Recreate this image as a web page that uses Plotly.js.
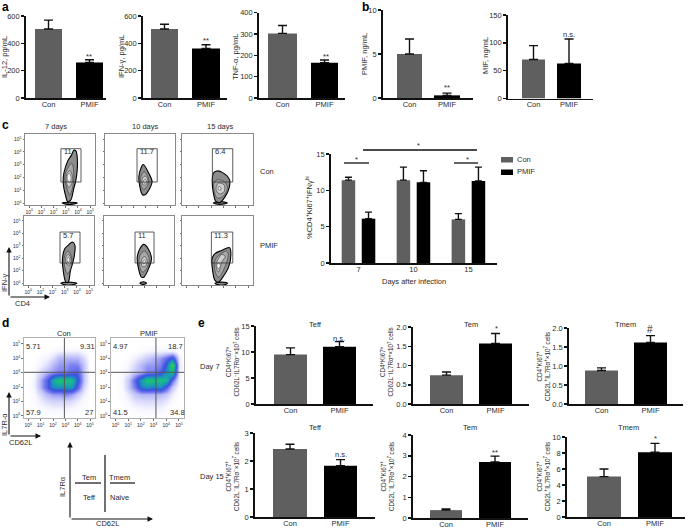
<!DOCTYPE html>
<html><head><meta charset="utf-8">
<script src="https://cdn.plot.ly/plotly-3.0.1.min.js"></script>
<style>html,body{margin:0;padding:0;background:#fff}#g{width:689px;height:528px}</style>
</head><body><div id="g"></div>
<script>
// ---------- values ----------
const groups = ['Con', 'PMIF'];
const il12 = [505, 260],    il12Top = [570, 280];
const ifng = [505, 362],    ifngTop = [540, 390];
const tnfa = [303, 165],    tnfaTop = [340, 178];
const pmif = [5, 0.3],      pmifTop = [6.7, 0.55];
const mif  = [70, 63],      mifTop  = [95, 107];
const teff7 = [9.5, 11],    teff7Top = [10.8, 12];
const tem7  = [0.75, 1.57], tem7Top  = [0.83, 1.83];
const tmem7 = [0.88, 1.62], tmem7Top = [0.95, 1.8];
const teff15 = [2.43, 1.83],tef15Top = [2.6, 2.05];
const tem15  = [0.38, 2.7], tem15Top = [0.44, 2.98];
const tmem15 = [5.05, 8.1], tmem15Top = [6, 9.2];
const days = ['7', '10', '15'];
const dayCon = [11.4, 11.4, 6.0],  dayConTop = [11.8, 13.2, 6.8];
const dayPmif = [6.1, 11.1, 11.3], dayPmifTop = [7, 12.7, 13.2];

const decadeTicks = [0, 1, 2, 3, 4, 5];
const decadeText = ['10<sup>0</sup>','10<sup>1</sup>','10<sup>2</sup>','10<sup>3</sup>','10<sup>4</sup>','10<sup>5</sup>'];

// contour outlines, in decades: [x..., y...] for each ring
const c11 = [
 [[3.66,3.83,3.96,3.83,3.66,3.39,3.14,3.0,2.79,2.84,3.2,3.47],[4.13,4.08,3.10,1.81,1.16,.21,.13,.52,1.55,2.33,3.36,3.75]],
 [[3.5,3.66,3.6,3.33,3.06,2.92,3.14],[3.1,2.33,1.42,.65,1.29,2.07,2.71]],
 [[3.33,3.55,3.44,3.22,3.03,3.11],[2.53,2.07,1.42,1.24,1.81,2.33]],
 [[3.28,3.44,3.33,3.14,3.11],[2.33,2.02,1.6,1.81,2.12]]];
const c11Low = [[2.7,3.3,3.95,3.3],[0,.07,0,-.1]];
const c12 = [
 [[2.79,3.25,3.52,3.33,2.95,2.73,2.51,2.43,2.65],[3.02,2.33,1.68,1.16,.65,.65,1.29,2.07,2.84]],
 [[2.87,3.25,3.06,2.79,2.57,2.6],[2.45,1.81,1.24,1.09,1.55,2.07]],
 [[2.95,3.17,3.0,2.79,2.68],[2.12,1.76,1.42,1.42,1.81]],
 [[2.95,3.06,2.92,2.81],[1.86,1.68,1.55,1.71]]];
const c13 = [
 [[2.46,2.95,3.5,3.42,3.06,2.73,2.4,2.19,2.1,2.19],[2.51,2.38,1.81,1.03,.39,.05,.13,.78,1.68,2.33]],
 [[2.46,3.06,3.33,2.95,2.51,2.24,2.24],[1.81,1.68,1.16,.52,.39,1.03,1.55]],
 [[2.6,3.06,3.06,2.68,2.4],[1.55,1.42,.9,.72,1.09]],
 [[2.62,2.78,2.78,2.6],[1.29,1.24,1.03,1.03]]];
const c13Low = [[2.19,2.7,3.33,2.7],[0,.12,0,-.1]];
const c21 = [
 [[3.63,3.83,3.74,3.47,3.28,3.09,2.87,2.81,3.0,3.28],[3.31,3.04,1.96,1.02,.08,.08,1.02,1.96,2.77,3.04]],
 [[3.28,3.58,3.47,3.22,2.95,3.0],[2.58,1.96,1.16,.75,1.56,2.23]],
 [[3.31,3.52,3.36,3.09,3.09],[2.31,1.88,1.42,1.69,2.1]],
 [[3.28,3.42,3.28,3.17],[2.1,1.88,1.67,1.88]]];
const c21Low = [[2.68,3.3,4.0,3.3],[-.02,.08,-.02,-.18]];
const c22 = [
 [[2.92,3.28,3.55,3.36,2.92,2.73,2.46,2.38,2.6],[3.12,2.77,1.96,1.29,.48,.48,1.29,2.1,2.77]],
 [[2.98,3.36,3.14,2.81,2.54,2.6],[2.58,1.96,1.16,.89,1.56,2.23]],
 [[2.98,3.2,3.03,2.81,2.7],[2.15,1.77,1.34,1.34,1.77]],
 [[2.98,3.06,2.92,2.84],[1.88,1.69,1.56,1.72]]];
const c22Low = [[2.6,2.87,3.14,2.87],[0,.1,0,-.1]];
const c23 = [
 [[3.5,3.61,3.42,2.95,2.6,2.32,2.13,2.08,2.32,2.87],[2.85,2.37,1.29,.48,.08,.22,1.02,1.96,2.37,2.63]],
 [[3.28,3.39,3.06,2.6,2.32,2.32,2.73],[2.58,2.23,1.16,.48,1.02,1.83,2.31]],
 [[2.87,3.14,2.87,2.6,2.4,2.6],[2.31,2.15,1.69,.89,1.42,1.96]],
 [[2.6,2.78,2.6,2.46],[1.61,1.42,1.16,1.42]]];
const c23Low = [[2.32,2.85,3.33,2.85],[-.02,.08,-.02,-.18]];

const cGateText = ['11', '11.7', '6.4', '5.7', '11', '11.3'];
const cGateX = [[2.6,4.25],[2.28,3.94],[2.11,3.76],[2.61,4.25],[2.2,3.76],[2.03,3.76]];
const cGateY = [[1.65,4.25],[1.65,4.25],[1.65,4.25],[1.62,4.11],[1.62,4.11],[1.62,4.11]];

// density grids, columns and rows every half decade
const densX = [0,.5,1,1.5,2,2.5,3,3.5,4,4.5,5];
const densY = [0,.5,1,1.5,2,2.5,3,3.5,4,4.5,5];
const densCon = [
 [0,0,0,0,0,0,0,0,0,0,0],
 [0,0,.2,.4,.5,.5,.5,.4,.2,0,0],
 [0,.2,.6,1,1.2,1.2,1.2,1,.6,.2,0],
 [0,.3,1,2,2.5,2.5,3,2.5,1.5,.5,0],
 [0,.5,2,4,6,6,6,6.5,4,1,.1],
 [0,.5,2,4,7,8.5,8,8,5,1.5,.1],
 [0,.3,1,2,2.5,3,3,3.5,4,1.5,0],
 [0,.1,.5,1,2,2.5,2.5,3,3,1.5,0],
 [0,0,.2,.5,1,2,2,2,2,1,0],
 [0,0,0,0,.3,.5,.5,.5,.5,.2,0],
 [0,0,0,0,0,0,0,0,0,0,0]];
const densPmif = [
 [0,0,0,0,0,0,0,0,0,0,0],
 [0,0,.1,.3,.4,.5,.5,.5,.2,0,0],
 [0,.1,.4,.8,1,1,1,1,.7,.2,0],
 [0,.2,.7,1.5,2,2,2,2,1.5,.6,0],
 [0,.3,1.5,3,5.5,6,5.5,6,4,1.5,.1],
 [0,.4,1.5,3.5,6.5,8.5,8,8,7.5,3.5,.3],
 [0,.2,.6,1.5,2,3,3,4,6,8,.5],
 [0,.1,.4,1,2,2.5,2.5,3,5,9.5,.6],
 [0,0,.1,.5,1,1.5,2,2.5,3.5,5,.5],
 [0,0,0,0,.2,.4,.5,.5,.6,.5,0],
 [0,0,0,0,0,0,0,0,0,0,0]];
const quadCon = ['5.71', '9.31', '57.9', '27'];
const quadPmif = ['4.97', '18.7', '41.5', '34.8'];

// ---------- layout helpers ----------
const W = 689, H = 528, FONT = '"Liberation Sans", Arial, sans-serif', INK = '#2a2a2a';
const layout = {
  width: W, height: H, autosize: false, margin: {l:0,r:0,t:0,b:0},
  paper_bgcolor:'#fff', plot_bgcolor:'rgba(0,0,0,0)', showlegend:false, barmode:'group',
  bargap:.27, bargroupgap:.325, font:{family:FONT,size:7.5,color:INK}, annotations:[], shapes:[]
};
const traces = [];
let axisNo = 0;
const px = x => x / W, py = y => 1 - y / H;
function label(text, x, y, o) {
  layout.annotations.push(Object.assign({text, x:px(x), y:py(y), xref:'paper', yref:'paper',
    xanchor:'center', yanchor:'middle', showarrow:false, font:{family:FONT,size:7.5,color:INK}}, o||{}));
}
function arrow(x0, y0, x1, y1) {
  layout.annotations.push({text:'', x:px(x1), y:py(y1), xref:'paper', yref:'paper',
    ax:x0-x1, ay:y0-y1, showarrow:true, arrowhead:2, arrowsize:1, arrowwidth:1.1, arrowcolor:'#111', standoff:0});
}
function seg(x0, y0, x1, y1, w) {
  layout.shapes.push({type:'line', xref:'paper', yref:'paper', x0:px(x0), y0:py(y0), x1:px(x1), y1:py(y1),
    line:{color:'#111', width:w||1}});
}
function newAxes(box, xa, ya) {
  axisNo++;
  const s = axisNo === 1 ? '' : axisNo;
  layout['xaxis'+s] = Object.assign({domain:[px(box[0]), px(box[1])], anchor:'y'+s, fixedrange:true, zeroline:false, showgrid:false}, xa);
  layout['yaxis'+s] = Object.assign({domain:[py(box[3]), py(box[2])], anchor:'x'+s, fixedrange:true, zeroline:false, showgrid:false}, ya);
  return ['x'+s, 'y'+s];
}
function yBase(ymax, dtick, fmt) {
  return {range:[0,ymax], dtick, tick0:0, tickformat:fmt||'', showline:true, linecolor:'#111', linewidth:1.8,
    ticks:'outside', ticklen:3, tickwidth:1.5, tickcolor:'#111', tickfont:{family:FONT,size:7.5,color:INK}};
}
function xBase() {
  return {type:'category', showline:true, linecolor:'#111', linewidth:1.8, ticks:'', ticklabelstandoff:-2,
    tickfont:{family:FONT,size:7.5,color:INK}};
}
function barPanel(vals, tops, ymax, dtick, box, bars, fmt) {
  const c1 = (bars[0]+bars[1])/2, c2 = (bars[2]+bars[3])/2, d = c2-c1;
  const xa = xBase(); xa.range = [(box[0]-c1)/d, (box[1]-c1)/d];
  const ids = newAxes(box, xa, yBase(ymax, dtick, fmt));
  traces.push({type:'bar', x:groups, y:vals, xaxis:ids[0], yaxis:ids[1],
    width:[(bars[1]-bars[0])/d, (bars[3]-bars[2])/d],
    marker:{color:['#5f5f5f','#000']},
    error_y:{type:'data', symmetric:false, array:tops.map((t,i)=>t-vals[i]), arrayminus:[0,0], color:'#111', thickness:1.4, width:4.5}});
}

// ---------- panels a, b ----------
barPanel(il12, il12Top, 600, 200, [26,106,16,98], [35,62,76,103]);
barPanel(ifng, ifngTop, 600, 200, [143,227,16,98], [151,178,192,220]);
barPanel(tnfa, tnfaTop, 400, 100, [259,345,12.7,98], [268,297,311,338]);
barPanel(pmif, pmifTop, 10, 5, [383,473,10,98], [397,422,434,460]);
barPanel(mif, mifTop, 150, 50, [508,593,15,98.5], [522,545,557,581]);

// ---------- panel e ----------
const lineE = '<sup>+</sup>Ki67<sup>+</sup>';
barPanel(teff7, teff7Top, 15, 5, [256,373,326,404], [274,307,323,356]);
barPanel(tem7, tem7Top, 2, .5, [413,529,327,404], [430,463,479,512], '.1f');
barPanel(tmem7, tmem7Top, 2, .5, [569,683,328,404], [585,618,634,667], '.1f');
barPanel(teff15, tef15Top, 3, 1, [255,375,433,517], [273,307,324,357]);
barPanel(tem15, tem15Top, 4, 1, [413,528,435,518], [430,462,479,511]);
barPanel(tmem15, tmem15Top, 10, 2, [567,685,437,517], [587,621,638,672]);

// ---------- panel c, bars ----------
{
  const xa = xBase(); xa.range = [-.5, 2.52];
  const ids = newAxes([331,497,154,263], xa, yBase(15, 5));
  const one = (name, y, top, col) => traces.push({type:'bar', name, x:days, y, xaxis:ids[0], yaxis:ids[1],
    marker:{color:col}, error_y:{type:'data', symmetric:false, array:top.map((t,i)=>t-y[i]),
    arrayminus:[0,0,0], color:'#111', thickness:1.4, width:3.5}});
  one('Con', dayCon, dayConTop, '#5f5f5f');
  one('PMIF', dayPmif, dayPmifTop, '#000');
}

// ---------- panel c, contour plots ----------
const ringFill = ['#8c8c8c', '#a8a8a8', '#cfcfcf', '#f4f4f4'];
function ring(r, ids, i) {
  traces.push({type:'scatter', mode:'lines', x:r[0].concat(r[0][0]), y:r[1].concat(r[1][0]), xaxis:ids[0], yaxis:ids[1],
    fill:'toself', fillcolor:ringFill[i], line:{shape:'spline', color:i===0?'#000':'#333', width:i===0?1.1:.6}, hoverinfo:'skip'});
}
function flowAxes(box, showX, showY, lineCol, lw) {
  const common = {showline:true, mirror:true, linecolor:lineCol, linewidth:lw, ticks:'outside', ticklen:1.5, tickwidth:.7,
    tickcolor:'#333', tickmode:'array', tickvals:decadeTicks, ticktext:decadeText, tickfont:{family:FONT,size:5,color:INK}};
  return newAxes(box,
    Object.assign({}, common, {range:[-.35,5.4], showticklabels:showX}),
    Object.assign({}, common, {range:[-.15,5.4], showticklabels:showY}));
}
const flowBoxes = [[25,95,134,205],[105,175,134,205],[182,253,134,205],[24,94,216,285],[104,174,216,285],[182,253,216,285]];
const flowData = [c11,c12,c13,c21,c22,c23], flowLow = [c11Low,null,c13Low,c21Low,c22Low,c23Low];
flowBoxes.forEach((box,i) => {
  const ids = flowAxes(box, i===0||i===3, i===0||i===3, '#8a8a8a', 1);
  if (flowLow[i]) ring(flowLow[i], ids, 0);
  flowData[i].forEach((r,k) => ring(r, ids, k));
  layout.shapes.push({type:'rect', xref:ids[0], yref:ids[1], x0:cGateX[i][0], x1:cGateX[i][1], y0:cGateY[i][0], y1:cGateY[i][1],
    line:{color:'#333', width:.8}, fillcolor:'rgba(0,0,0,0)'});
  layout.annotations.push({text:cGateText[i], xref:ids[0], yref:ids[1], x:cGateX[i][0]+.05, y:cGateY[i][1]-.25,
    xanchor:'left', yanchor:'middle', showarrow:false, font:{family:FONT,size:7.5,color:INK}});
});

// ---------- panel d, density plots ----------
const densScale = [[0,'#ffffff'],[.04,'#f6f6ff'],[.1,'#dcdcfc'],[.2,'#b4b6f8'],[.3,'#7a7ef0'],[.45,'#3a50e0'],[.6,'#1e90c0'],[.75,'#18b890'],[.88,'#20c850'],[1,'#a8e020']];
[[[24,95,338,418],densCon,2.92,3.02],[[111,184,338,418],densPmif,3.19,3.02]].forEach(p => {
  const ids = flowAxes(p[0], true, true, '#b0b0b0', 1.2);
  traces.push({type:'heatmap', x:densX, y:densY, z:p[1], xaxis:ids[0], yaxis:ids[1], zmin:0, zmax:10,
    zsmooth:'best', colorscale:densScale, showscale:false, hoverinfo:'skip'});
  layout.shapes.push({type:'line', xref:ids[0], yref:'paper', x0:p[2], x1:p[2], y0:py(p[0][3]), y1:py(p[0][2]), line:{color:'#555',width:1}});
  layout.shapes.push({type:'line', xref:'paper', yref:ids[1], x0:px(p[0][0]), x1:px(p[0][1]), y0:p[3], y1:p[3], line:{color:'#555',width:1}});
});

// ---------- text ----------
const bold = {font:{family:FONT,size:12,color:'#000',weight:700}};
label('<b>a</b>',5,7,bold); label('<b>b</b>',365,7,bold); label('<b>c</b>',5,125,bold);
label('<b>d</b>',5,323,bold); label('<b>e</b>',201,323,bold);
const rot = {textangle:-90};
label('IL-12, pg/mL',5,57,rot); label('IFN-γ, pg/mL',122,57,rot); label('TNF-α, pg/mL',236,57,rot);
label('PMIF, ng/mL',364,54,rot); label('MIF, ng/mL',485,56,rot);
label('**',89,56); label('**',206,41); label('**',326,56); label('**',447,88); label('n.s.',569,34);
label('7 days',56,127); label('10 days',145,127); label('15 days',220,127);
label('Con',258,172,{xanchor:'left'}); label('PMIF',258,246,{xanchor:'left'});
label('IFN-γ',4,283,rot); label('CD4',22,303);
arrow(9,297,9,247); arrow(9,297,50,297);
label('%CD4<sup>+</sup>Ki67<sup>+</sup>IFNγ<sup>hi</sup>',309,208,rot);
label('Days after infection',414,281);
seg(363,150,477,150,1.3); seg(344,163,369,163,1.3); seg(454,163,478,163,1.3);
label('*',418,145); label('*',356,160); label('*',467,160);
layout.shapes.push({type:'rect',xref:'paper',yref:'paper',x0:px(501),x1:px(513),y0:py(162.5),y1:py(157),fillcolor:'#5f5f5f',line:{width:0}});
layout.shapes.push({type:'rect',xref:'paper',yref:'paper',x0:px(501),x1:px(513),y0:py(175),y1:py(169.5),fillcolor:'#000',line:{width:0}});
label('Con',515,159.5,{xanchor:'left'}); label('PMIF',515,172,{xanchor:'left'});

label('Con',64,333); label('PMIF',149,333);
[[33,346],[87,346],[33,412],[89,412]].forEach((q,i)=>label(quadCon[i],q[0],q[1]));
[[120,346],[175,346],[120,412],[177,412]].forEach((q,i)=>label(quadPmif[i],q[0],q[1]));
label('IL7R-α',4,425,rot); label('CD62L',20,442);
arrow(9,436,9,392); arrow(9,436,41,436);
arrow(70,519,70,442); arrow(70,519,153,519);
seg(105,455,105,512,1.2); seg(75,483,101,483,1.2); seg(110,483,135,483,1.2);
label('Tem',89,477); label('Tmem',119,477); label('Teff',89,497); label('Naive',119,497);
label('IL7Rα',62,487,rot); label('CD62L',107,523);

label('Day 7',198,366,{xanchor:'left'}); label('Day 15',198,476,{xanchor:'left'});
label('Teff',315,324); label('Tem',471,324); label('Tmem',625,324);
label('Teff',315,427); label('Tem',470,427); label('Tmem',628,427.5);
label('n.s.',339,338); label('*',496,328); label('#',650,329,{font:{family:FONT,size:10,color:INK}});
label('n.s.',341,454); label('**',495,452); label('*',655,438);
const eTitle = (a,b) => 'CD4'+lineE+'<br>CD62L<sup>'+a+'</sup>IL7Rα<sup>'+b+'</sup>×10<sup>7</sup> cells';
const eOpt = {textangle:-90, font:{family:FONT,size:6.3,color:INK}};
label(eTitle('−','−'),232.5,362,eOpt); label(eTitle('−','+'),386.5,362,eOpt); label(eTitle('+','+'),543,367,eOpt);
label(eTitle('−','−'),232,477,eOpt); label(eTitle('−','+'),387,477,eOpt); label(eTitle('+','+'),543,477,eOpt);

Plotly.newPlot('g', traces, layout, {staticPlot:true, displayModeBar:false});
</script></body></html>
